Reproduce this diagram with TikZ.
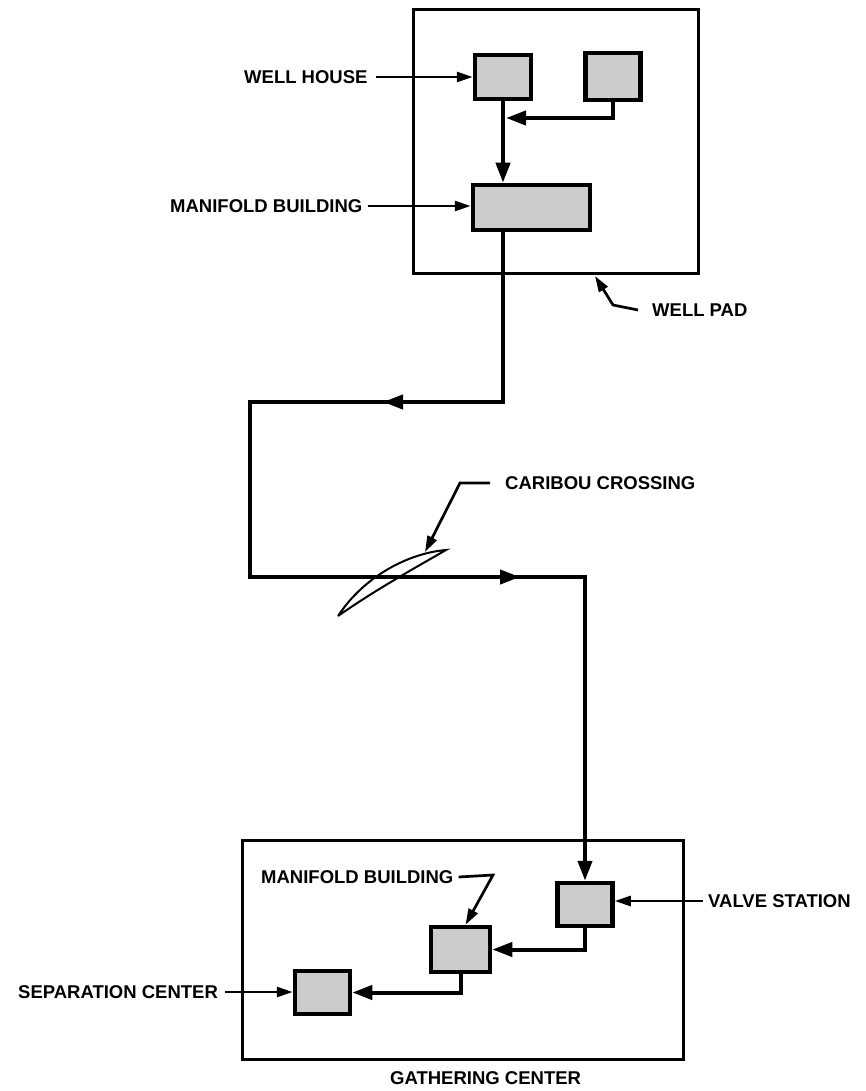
\documentclass[tikz,border=0pt]{standalone}
\usepackage{fontspec}
\setmainfont{Liberation Sans}
\usetikzlibrary{arrows.meta}
\begin{document}
\begin{tikzpicture}[x=1pt,y=-1pt,
  bldg/.style={draw, line width=4.5pt, fill=black!20, inner sep=0pt},
  frame/.style={draw, line width=3pt, inner sep=0pt},
  lbl/.style={inner sep=0pt, anchor=west, font=\bfseries\fontsize{18.5}{20}\selectfont},
  flow/.style={line width=4pt},
  flowarr/.style={line width=4pt, -{Triangle[length=20pt,width=14pt]}},
  lead/.style={line width=2.7pt, -{Triangle[length=16pt,width=10pt]}},
  lens/.style={line width=2pt}]
\useasboundingbox (0,0) rectangle (865,1091);

% frames
\node[frame, minimum width=285pt, minimum height=263pt] (pad) at (555.5,141.5) {};
\node[frame, minimum width=441pt, minimum height=219pt] (gc) at (462.5,949.5) {};

% buildings
\node[bldg, minimum width=56pt, minimum height=44pt] (wh1) at (503,77) {};
\node[bldg, minimum width=55pt, minimum height=47pt] (wh2) at (613,76.5) {};
\node[bldg, minimum width=117pt, minimum height=45pt] (mb1) at (531.5,207.5) {};
\node[bldg, minimum width=55pt, minimum height=43pt] (vs) at (585,904.5) {};
\node[bldg, minimum width=59pt, minimum height=45pt] (mb2) at (460.5,949.5) {};
\node[bldg, minimum width=55pt, minimum height=43pt] (sc) at (322.5,992.5) {};

% labels
\node[lbl] (lwh) at (244,77) {WELL HOUSE};
\node[lbl] (lmb1) at (170,206) {MANIFOLD BUILDING};
\node[lbl] (lwp) at (652,310) {WELL PAD};
\node[lbl] (lcc) at (505,483) {CARIBOU CROSSING};
\node[lbl] (lmb2) at (261,877) {MANIFOLD BUILDING};
\node[lbl] (lvs) at (708,901) {VALVE STATION};
\node[lbl] (lsc) at (18,992) {SEPARATION CENTER};
\node[lbl] (lgc) at (390,1078) {GATHERING CENTER};

% coordinates
\coordinate (j1) at (506,118);
\coordinate (a1) at (383,402);
\coordinate (c1) at (250,402);
\coordinate (c2) at (250,577);
\coordinate (a2) at (520,577);
\coordinate (wpb) at (613,305);
\coordinate (wptip) at (595,276);
\coordinate (ccb) at (460,483);
\coordinate (cctip) at (425,552);
\coordinate (mbb) at (493,875);
\coordinate (l1) at (338,616);
\coordinate (l2) at (446,550);
\coordinate (swh) at ([xshift=8pt]lwh.east);
\coordinate (smb1) at ([xshift=5pt]lmb1.east);
\coordinate (svs) at ([xshift=-5pt]lvs.west);
\coordinate (ssc) at ([xshift=7pt]lsc.east);

% flow lines
\draw[flowarr] (wh1.south) -- (mb1.north -| wh1.south);
\draw[flowarr] (wh2.south) |- (j1);
\draw[flowarr] (mb1.south -| wh1.south) |- (a1);
\draw[flowarr] ([xshift=10pt]a1) -- (c1) -- (c2) -- (a2);
\draw[flowarr] ([xshift=-10pt]a2) -| (vs.north);
\draw[flowarr] (vs.south) |- (mb2.east);
\draw[flowarr] (mb2.south) |- (sc.east);

% caribou crossing
\draw[lens] (l1) .. controls (365,575) and (410,553) .. (l2) .. controls (420,565) and (375,590) .. (l1);

% leaders
\draw[lead] (swh) -- (swh -| wh1.west);
\draw[lead] (smb1) -- (smb1 -| mb1.west);
\draw[lead] ([xshift=-14pt]lwp.west) -- (wpb) -- (wptip);
\draw[lead] ([xshift=-15pt]lcc.west) -- (ccb) -- (cctip);
\draw[lead] ([xshift=5pt]lmb2.east) -- (mbb) -- ([xshift=5pt]mb2.north);
\draw[lead] (svs) -- (svs -| vs.east);
\draw[lead] (ssc) -- (ssc -| sc.west);
\end{tikzpicture}
\end{document}
